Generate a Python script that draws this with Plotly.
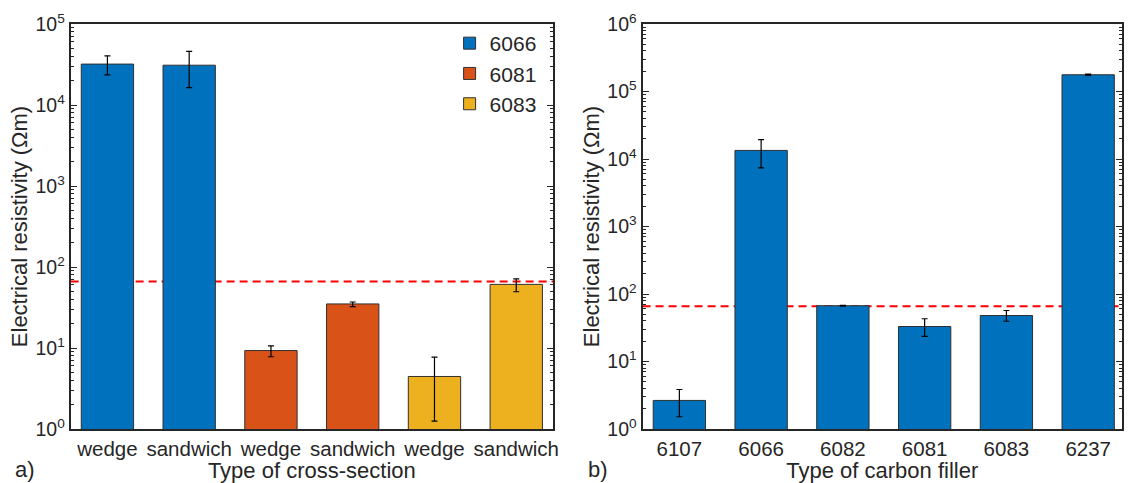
import plotly.graph_objects as go

# ---------------- data ----------------
cross_labels = ["wedge", "sandwich", "wedge", "sandwich", "wedge", "sandwich"]
series_names = ["6066", "6081", "6083"]
series_pos = [[0, 1], [2, 3], [4, 5]]
series_vals = [[32000, 31000], [9.3, 35], [4.45, 61]]
series_err_up = [[8300, 15000], [1.3, 2.0], [3.25, 10.5]]
series_err_dn = [[8400, 14600], [1.5, 2.5], [3.2, 11.5]]

filler_labels = ["6107", "6066", "6082", "6081", "6083", "6237"]
filler_vals = [2.65, 13400, 67, 33, 48, 177000]
filler_err_up = [1.2, 5900, 1.0, 10, 9, 4000]
filler_err_dn = [1.13, 6000, 1.0, 9.4, 8.5, 4000]

threshold = 66

ytick_vals_a = [1, 10, 100, 1000, 10000, 100000]
ytick_text_a = ["10<sup>0</sup>", "10<sup>1</sup>", "10<sup>2</sup>",
                "10<sup>3</sup>", "10<sup>4</sup>", "10<sup>5</sup>"]
ytick_vals_b = [1, 10, 100, 1000, 10000, 100000, 1000000]
ytick_text_b = ["10<sup>0</sup>", "10<sup>1</sup>", "10<sup>2</sup>",
                "10<sup>3</sup>", "10<sup>4</sup>", "10<sup>5</sup>",
                "10<sup>6</sup>"]
minor_digits = [2, 3, 4, 5, 6, 7, 8, 9]

xtitle_a = "Type of cross-section"
xtitle_b = "Type of carbon filler"
ytitle = "Electrical resistivity (Ωm)"

colors = ["#0072BD", "#D95319", "#EDB120"]
FONT = "Arial, Liberation Sans, sans-serif"
TXT = "#262626"
XTICK_SIZE = 20.5
YTICK_SIZE = 19.5
TITLE_SIZE = 22


def minor_ticks(decade_vals):
    return [d * v for v in decade_vals[:-1] for d in minor_digits]


fig = go.Figure()

for name, pos, vals, eu, ed, c in zip(series_names, series_pos, series_vals,
                                        series_err_up, series_err_dn, colors):
    fig.add_trace(go.Bar(
        x=pos, y=vals, name=name, width=0.64,
        marker=dict(color=c, line=dict(color="#303030", width=1)),
        error_y=dict(type="data", symmetric=False, array=eu, arrayminus=ed,
                     color="black", thickness=1.2, width=3),
        xaxis="x", yaxis="y", showlegend=True))

fig.add_trace(go.Bar(
    x=list(range(len(filler_labels))), y=filler_vals, name="filler", width=0.64,
    marker=dict(color=colors[0], line=dict(color="#303030", width=1)),
    error_y=dict(type="data", symmetric=False, array=filler_err_up,
                 arrayminus=filler_err_dn, color="black", thickness=1.2, width=3),
    xaxis="x2", yaxis="y2", showlegend=False))

W, H = 1128, 483
L1, R1 = 71, 556
L2, R2 = 646, 1128

axis_common = dict(showline=True, linecolor="#262626", linewidth=2, mirror=True,
                   showgrid=False, zeroline=False)


def xaxis_def(labels, title, rng, dom):
    return dict(axis_common, domain=dom, range=rng,
                tickfont=dict(family=FONT, size=XTICK_SIZE, color=TXT),
                tickmode="array", tickvals=list(range(len(labels))),
                ticktext=labels, ticks="",
                title=dict(text=title,
                           font=dict(family=FONT, size=TITLE_SIZE, color=TXT),
                           standoff=1))


def yaxis_def(vals, text, rng, standoff):
    return dict(axis_common, type="log", ticks="inside", ticklen=6,
                tickwidth=1.3, tickcolor="#262626",
                tickfont=dict(family=FONT, size=YTICK_SIZE, color=TXT),
                tickmode="array", tickvals=vals, ticktext=text,
                minor=dict(ticks="inside", ticklen=3.5, tickwidth=1.1,
                           tickcolor="#262626", tickmode="array",
                           tickvals=minor_ticks(vals), showgrid=False),
                mirror="allticks", range=rng,
                title=dict(text=ytitle,
                           font=dict(family=FONT, size=TITLE_SIZE, color=TXT),
                           standoff=standoff))


dash_line = dict(color="#FF0000", width=2, dash="8px,5px")

fig.update_layout(
    width=W, height=H,
    margin=dict(l=0, r=0, t=24, b=54),
    plot_bgcolor="white", paper_bgcolor="white",
    barmode="overlay",
    font=dict(family=FONT, size=XTICK_SIZE, color=TXT),
    xaxis=xaxis_def(cross_labels, xtitle_a, [-0.45, 5.45], [L1 / W, R1 / W]),
    yaxis=dict(yaxis_def(ytick_vals_a, ytick_text_a, [0, 5], 2), anchor="x"),
    xaxis2=dict(xaxis_def(filler_labels, xtitle_b,
                          [-0.45, -0.45 + (R2 - L2) / 82.2], [L2 / W, R2 / W]),
                anchor="y2"),
    yaxis2=dict(yaxis_def(ytick_vals_b, ytick_text_b, [0, 6], 2), anchor="x2"),
    legend=dict(x=452 / W, y=(429 - 23) / 405, xanchor="left", yanchor="top",
                bgcolor="rgba(0,0,0,0)",
                font=dict(family=FONT, size=21, color=TXT),
                tracegroupgap=0, itemwidth=30),
    shapes=[
        dict(type="line", xref="x domain", yref="y", x0=0, x1=1,
             y0=threshold, y1=threshold, line=dash_line, layer="below"),
        dict(type="line", xref="x2 domain", yref="y2", x0=0, x1=1,
             y0=threshold, y1=threshold, line=dash_line, layer="below"),
    ],
    annotations=[
        dict(text="a)", xref="paper", yref="paper", x=13 / W, y=-(469 - 429) / 405,
             xanchor="left", yanchor="middle", showarrow=False,
             font=dict(family=FONT, size=TITLE_SIZE, color=TXT)),
        dict(text="b)", xref="paper", yref="paper", x=589 / W, y=-(469 - 429) / 405,
             xanchor="left", yanchor="middle", showarrow=False,
             font=dict(family=FONT, size=TITLE_SIZE, color=TXT)),
    ],
)

fig.write_html("out.html")
